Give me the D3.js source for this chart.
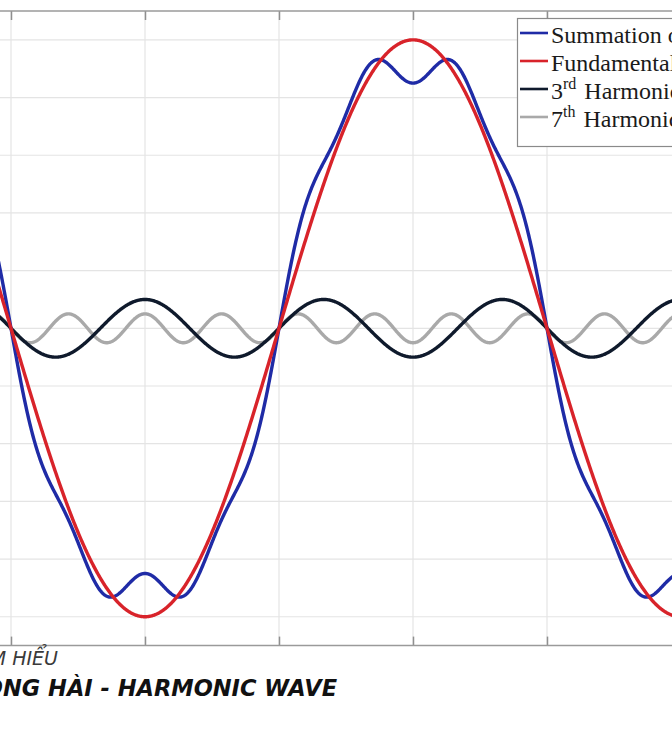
<!DOCTYPE html>
<html><head><meta charset="utf-8">
<script src="https://cdn.jsdelivr.net/npm/d3@7"></script>
<style>body{margin:0;background:#fff;overflow:hidden}</style>
</head><body><svg id="c" width="672" height="735"></svg>
<script>
// ---- data ----
const seriesNames = ["Summation of Harmonics", "Fundamental", "3rd Harmonic", "7th Harmonic"];
const harmonicOrders = [1, 3, 7];            // fundamental, 3rd, 7th
const harmonicAmplitudes = [1.0, 0.10, 0.05]; // per-unit amplitudes
const periodMs = 20;                          // fundamental period (ms)
const xTicks = [-10, -5, 0, 5, 10, 15];       // ms
const yTicks = [-1.0, -0.8, -0.6, -0.4, -0.2, 0, 0.2, 0.4, 0.6, 0.8, 1.0];
const titleSmall = "TÌM HIỂU";
const titleBig = "SÓNG HÀI - HARMONIC WAVE";

// ---- layout ----
const svg = d3.select("#c");
const W = 672, H = 735;
const x = d3.scaleLinear().domain([-10, 10]).range([11, 547]);
const y = d3.scaleLinear().domain([-1.1, 1.1]).range([645.6, 11]);
const yTop = y(1.1), yBottom = y(-1.1);

svg.append("rect").attr("width", W).attr("height", H).attr("fill", "#fff");

// grid
const grid = svg.append("g");
grid.selectAll("line.v").data(xTicks).join("line").attr("class", "v")
  .attr("x1", d => x(d)).attr("x2", d => x(d))
  .attr("y1", yTop).attr("y2", yBottom)
  .attr("stroke", "#e4e4e4").attr("stroke-width", 1.2);
grid.selectAll("line.h").data(yTicks).join("line").attr("class", "h")
  .attr("x1", -10).attr("x2", W + 10)
  .attr("y1", d => y(d)).attr("y2", d => y(d))
  .attr("stroke", "#e4e4e4").attr("stroke-width", 1.2);

// axes (top & bottom box edges with inward ticks)
const axTop = svg.append("g").attr("transform", `translate(0,${yTop})`)
  .call(d3.axisTop(x).tickValues(xTicks).tickSize(-9).tickSizeOuter(0).tickFormat(() => ""));
const axBot = svg.append("g").attr("transform", `translate(0,${yBottom})`)
  .call(d3.axisBottom(x).tickValues(xTicks).tickSize(-9).tickSizeOuter(0).tickFormat(() => ""));
[axTop, axBot].forEach(g => {
  g.select(".domain").remove();
  g.selectAll(".tick line").attr("stroke", "#8f8f8f").attr("stroke-width", 1.5);
});
[yTop, yBottom].forEach(yy => svg.append("line")
  .attr("x1", -10).attr("x2", W + 10).attr("y1", yy).attr("y2", yy)
  .attr("stroke", "#9a9a9a").attr("stroke-width", 1.5));

// curves
const omega = 2 * Math.PI / periodMs;
const ts = d3.range(-10.8, 15.6, 0.02);
const harmonic = k => t => harmonicAmplitudes[k] * Math.sin(harmonicOrders[k] * omega * t);
const summation = t => d3.sum(harmonicOrders, (_, k) => harmonic(k)(t));
const fns = [summation, harmonic(0), harmonic(1), harmonic(2)];
const colors = ["#1f2ba6", "#d8232a", "#0f1a2c", "#a9a9a9"];
const line = f => d3.line().x(t => x(t)).y(t => y(f(t)))(ts);

const drawOrder = [3, 2, 0, 1];
const curves = svg.append("g");
drawOrder.forEach(i => {
  curves.append("path").attr("d", line(fns[i]))
    .attr("fill", "none").attr("stroke", colors[i])
    .attr("stroke-width", 3.4).attr("stroke-linejoin", "round");
});

// legend
const lg = svg.append("g");
lg.append("rect").attr("x", 517.5).attr("y", 18.5).attr("width", 240).attr("height", 128)
  .attr("fill", "#fff").attr("stroke", "#8a8a8a").attr("stroke-width", 1.2);
const baselines = [43, 71, 99, 127];
const sups = [null, null, "rd", "th"];
const pre = ["Summation of Harmonics", "Fundamental", "3", "7"];
seriesNames.forEach((name, i) => {
  const b = baselines[i];
  lg.append("line").attr("x1", 520).attr("x2", 548).attr("y1", b - 10).attr("y2", b - 10)
    .attr("stroke", colors[i]).attr("stroke-width", 2.6);
  const t = lg.append("text").attr("x", 551).attr("y", b)
    .attr("font-family", "Liberation Serif, Times New Roman, serif")
    .attr("font-size", 24).attr("fill", "#1a1a1a");
  if (sups[i]) {
    t.append("tspan").text(pre[i]);
    t.append("tspan").attr("font-size", 16).attr("dy", -10).text(sups[i]);
    t.append("tspan").attr("dy", 10).attr("dx", 2).text(name.slice(name.indexOf(" ")));
  } else {
    t.text(name);
  }
});

// bottom caption
svg.append("text").attr("x", 58).attr("y", 665).attr("text-anchor", "end")
  .attr("font-family", "DejaVu Sans, sans-serif").attr("font-weight", 200)
  .attr("font-style", "italic").attr("font-size", 19).attr("fill", "#3a3a3a")
  .text(titleSmall);
svg.append("text").attr("x", 337).attr("y", 696).attr("text-anchor", "end")
  .attr("font-family", "DejaVu Sans, sans-serif").attr("font-weight", 700)
  .attr("font-style", "italic").attr("font-size", 22.5).attr("fill", "#111")
  .text(titleBig);
</script></body></html>
